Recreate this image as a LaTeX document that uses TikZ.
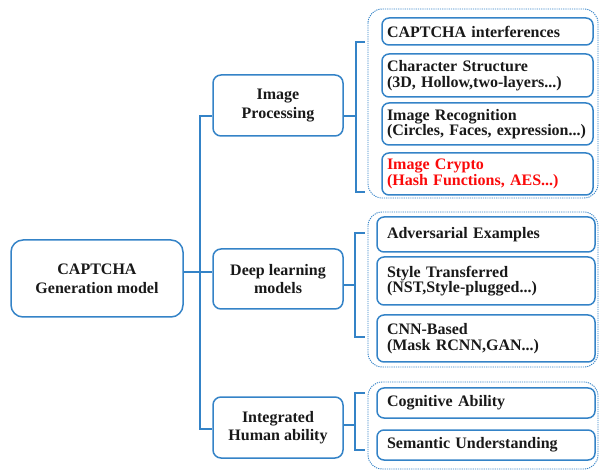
\documentclass[tikz,border=0pt]{standalone}
\usepackage{fontspec}
\setmainfont{Liberation Serif}
\begin{document}
\definecolor{lineblue}{RGB}{52,131,199}
\definecolor{ink}{RGB}{25,25,25}
\definecolor{hot}{RGB}{250,10,10}
\begin{tikzpicture}[x=1pt,y=-1pt,
  every node/.style={font=\bfseries\fontsize{16}{15.5}\selectfont, text=ink},
  box/.style={draw=lineblue, line width=1.5pt, rounded corners=8pt, inner sep=0pt, align=center},
  leafa/.style={draw=lineblue, line width=1.5pt, rounded corners=7pt, inner ysep=0pt, inner xsep=5pt,
    minimum width=211pt, text width=201pt, align=left},
  leafb/.style={draw=lineblue, line width=1.5pt, rounded corners=7pt, inner ysep=0pt, inner xsep=10pt,
    minimum width=218pt, text width=198pt, align=left},
  conn/.style={draw=lineblue, line width=1.3pt},
  grp/.style={draw=lineblue, line width=0.9pt, dash pattern=on 1.2pt off 1pt, rounded corners=14pt}]
\useasboundingbox (0,0) rectangle (600,470);

% root and second-level categories
\node[box, minimum width=172pt, minimum height=77pt, rounded corners=12pt,
  font=\bfseries\fontsize{16}{19}\selectfont] (root) at (97,278.5) {CAPTCHA\\Generation model};
\node[box, minimum width=130pt, minimum height=61pt, font=\bfseries\fontsize{16}{18.5}\selectfont]
  (m1) at (278,105.5) {Image\\Processing};
\node[box, minimum width=130pt, minimum height=60pt, font=\bfseries\fontsize{16}{18.5}\selectfont]
  (m2) at (278,279) {Deep learning\\models};
\node[box, minimum width=130pt, minimum height=61pt, font=\bfseries\fontsize{16}{18.5}\selectfont]
  (m3) at (278,427.5) {Integrated\\Human ability};

% dotted group frames
\draw[grp] (368,9) rectangle (598,198);
\draw[grp] (368,212) rectangle (598,367);
\draw[grp] (368,382) rectangle (598,469);

% image processing leaves
\node[leafa, minimum height=27pt] (c1) at (487.5,31.5) {CAPTCHA interferences};
\node[leafa, minimum height=43pt] (c2) at (487.5,75.5) {Character Structure\\(3D, Hollow,two-layers...)};
\node[leafa, minimum height=42pt] (c3) at (487.5,124) {Image Recognition\\(Circles, Faces, expression...)};
\node[leafa, minimum height=42pt, text=hot] (c4) at (487.5,174) {Image Crypto\\(Hash Functions, AES...)};

% deep learning leaves
\node[leafb, minimum height=35pt] (d1) at (486,234.5) {Adversarial Examples};
\node[leafb, minimum height=48pt] (d2) at (486,281) {Style Transferred\\(NST,Style-plugged...)};
\node[leafb, minimum height=47pt] (d3) at (486,338.5) {CNN-Based\\(Mask RCNN,GAN...)};

% human ability leaves
\node[leafb, minimum height=30pt] (e1) at (486,403) {Cognitive Ability};
\node[leafb, minimum height=30pt] (e2) at (486,445) {Semantic Understanding};

% trunk from the root
\coordinate (t) at (200,272);
\draw[conn] ([yshift=6.5pt]root.east) -- (t);
\draw[conn] ([yshift=-10.5pt]m1.west) -| (t) |- ([yshift=-1.5pt]m3.west);
\draw[conn] (t) -- ([yshift=7pt]m2.west);

% brackets towards the leaf groups
\coordinate (b1) at (356,116);
\coordinate (b2) at (355,285);
\coordinate (b3) at (355,425);
\draw[conn] ([yshift=-10.5pt]m1.east) -- (b1);
\draw[conn] (365,42) -- (356,42) -- (356,192) -- (365,192);
\draw[conn] ([yshift=-6pt]m2.east) -- (b2);
\draw[conn] (365,233) -- (355,233) -- (355,337) -- (365,337);
\draw[conn] ([yshift=2.5pt]m3.east) -- (b3);
\draw[conn] (365,393) -- (355,393) -- (355,450) -- (365,450);
\end{tikzpicture}
\end{document}
